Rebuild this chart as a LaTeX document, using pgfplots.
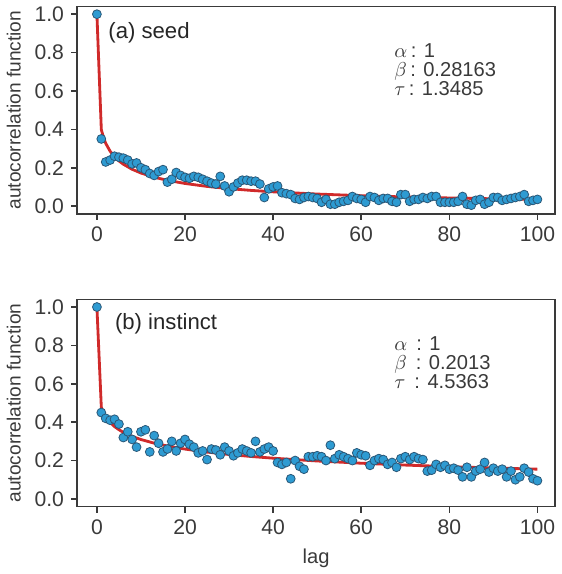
\documentclass[border=0pt]{standalone}
\usepackage{fontspec}
\setmainfont{Liberation Sans}
\usepackage{pgfplots}
\usepackage{pgfplotstable}
\pgfplotsset{compat=1.18}

\definecolor{dotfill}{HTML}{2E9BD2}
\definecolor{dotedge}{HTML}{2A5878}
\definecolor{fitred}{HTML}{D02A2A}
\definecolor{axgray}{HTML}{3A3A3A}

% lag, acf -- panel (a) seed
\pgfplotstableread{
t y
0 1.00
1 0.35
2 0.23
3 0.24
4 0.26
5 0.255
6 0.25
7 0.24
8 0.22
9 0.225
10 0.20
11 0.19
12 0.17
13 0.16
14 0.18
15 0.19
16 0.125
17 0.14
18 0.175
19 0.16
20 0.15
21 0.145
22 0.155
23 0.15
24 0.14
25 0.13
26 0.12
27 0.115
28 0.155
29 0.105
30 0.075
31 0.10
32 0.12
33 0.135
34 0.135
35 0.13
36 0.13
37 0.115
38 0.045
39 0.09
40 0.10
41 0.105
42 0.07
43 0.065
44 0.06
45 0.04
46 0.035
47 0.045
48 0.05
49 0.045
50 0.04
51 0.02
52 0.035
53 0.01
54 0.01
55 0.02
56 0.025
57 0.03
58 0.05
59 0.04
60 0.035
61 0.02
62 0.05
63 0.045
64 0.03
65 0.04
66 0.04
67 0.025
68 0.02
69 0.06
70 0.06
71 0.025
72 0.035
73 0.035
74 0.045
75 0.04
76 0.05
77 0.05
78 0.02
79 0.02
80 0.02
81 0.02
82 0.025
83 0.05
84 0.01
85 0.005
86 0.03
87 0.035
88 0.01
89 0.02
90 0.045
91 0.045
92 0.03
93 0.035
94 0.04
95 0.045
96 0.05
97 0.06
98 0.025
99 0.03
100 0.035
}\seed

% fitted curve exp(-(t/tau)^beta), beta=0.28163, tau=1.3485
\pgfplotstableread{
t y
0 1.000
1 0.3988
1.5 0.3568
2 0.3271
3 0.2858
4 0.2571
5 0.2354
6 0.2182
8 0.1919
10 0.1724
13 0.1506
16 0.1344
20 0.1180
25 0.1027
30 0.0911
35 0.0819
40 0.0744
50 0.0629
60 0.0543
70 0.0478
80 0.0425
90 0.0382
100 0.0346
}\seedfit

% lag, acf -- panel (b) instinct
\pgfplotstableread{
t y
0 1.00
1 0.45
2 0.42
3 0.41
4 0.415
5 0.39
6 0.32
7 0.35
8 0.31
9 0.27
10 0.35
11 0.36
12 0.245
13 0.33
14 0.29
15 0.245
16 0.26
17 0.30
18 0.25
19 0.29
20 0.31
21 0.285
22 0.27
23 0.24
24 0.25
25 0.205
26 0.26
27 0.255
28 0.23
29 0.27
30 0.25
31 0.225
32 0.24
33 0.26
34 0.25
35 0.24
36 0.30
37 0.245
38 0.26
39 0.27
40 0.25
41 0.19
42 0.18
43 0.19
44 0.105
45 0.20
46 0.17
47 0.155
48 0.22
49 0.22
50 0.225
51 0.22
52 0.20
53 0.28
54 0.21
55 0.23
56 0.22
57 0.21
58 0.20
59 0.24
60 0.23
61 0.225
62 0.175
63 0.20
64 0.21
65 0.205
66 0.18
67 0.19
68 0.165
69 0.21
70 0.22
71 0.205
72 0.22
73 0.21
74 0.205
75 0.145
76 0.15
77 0.18
78 0.165
79 0.175
80 0.155
81 0.16
82 0.15
83 0.115
84 0.165
85 0.115
86 0.145
87 0.155
88 0.19
89 0.14
90 0.16
91 0.145
92 0.155
93 0.115
94 0.145
95 0.10
96 0.115
97 0.16
98 0.14
99 0.105
100 0.095
}\instinct

% fitted curve, beta=0.2013, tau=4.5363
\pgfplotstableread{
t y
0 1.000
1 0.4783
1.5 0.4492
2 0.4283
3 0.3985
4 0.3772
5 0.3607
6 0.3472
8 0.3259
10 0.3096
13 0.2905
16 0.2756
20 0.2598
25 0.2441
30 0.2316
35 0.2212
40 0.2123
50 0.1977
60 0.1861
70 0.1764
80 0.1683
90 0.1613
100 0.1551
}\instinctfit

\pgfplotsset{
  acf/.style={
    width=237.5pt, height=103pt, scale only axis,
    xmin=-4.5, xmax=104, ymin=-0.04, ymax=1.04,
    axis line style={axgray, line width=0.8pt},
    xtick={0,20,40,60,80,100},
    ytick={0,0.2,0.4,0.6,0.8,1.0},
    tick align=outside, xtick pos=bottom, ytick pos=left,
    major tick length=3pt,
    tick style={axgray, line width=0.8pt},
    ticklabel style={font=\fontsize{10.5}{12}\selectfont, text=axgray},
    /pgf/number format/assume math mode=true,
    yticklabel style={/pgf/number format/.cd, fixed, fixed zerofill, precision=1},
    ylabel={autocorrelation function},
    ylabel style={font=\fontsize{9.5}{11}\selectfont, text=axgray},
    xlabel style={font=\fontsize{10}{12}\selectfont, text=axgray},
    clip=false,
  },
  dots/.style={only marks, mark=*, mark size=2.2pt,
    mark options={fill=dotfill, draw=dotedge, line width=0.4pt}},
  fit/.style={no marks, fitred, line width=1.4pt},
}
\tikzset{
  params/.style={anchor=west, align=left, inner sep=1pt,
    font=\fontsize{10}{9.6}\selectfont, text=axgray},
  panel/.style={anchor=west, font=\fontsize{11}{13}\selectfont, text=black!85},
}

\begin{document}
\begin{tikzpicture}
\begin{axis}[acf]
\addplot[dots] table[x=t, y=y] {\seed};
\addplot[fit] table[x=t, y=y] {\seedfit};
\node[panel] at (axis cs:1,0.905) {(a) seed};
\node[params] at (axis cs:67,0.71) {$\alpha$\,: 1\\$\beta$\,: 0.28163\\$\tau$\,: 1.3485};
\end{axis}

\begin{axis}[acf, yshift=-145.5pt, xlabel={lag}]
\addplot[dots] table[x=t, y=y] {\instinct};
\addplot[fit] table[x=t, y=y] {\instinctfit};
\node[panel] at (axis cs:2.5,0.915) {(b) instinct};
\node[params] at (axis cs:67,0.71) {$\alpha$\ \,: 1\\$\beta$\ \,: 0.2013\\$\tau$\ \,: 4.5363};
\end{axis}
\end{tikzpicture}
\end{document}
